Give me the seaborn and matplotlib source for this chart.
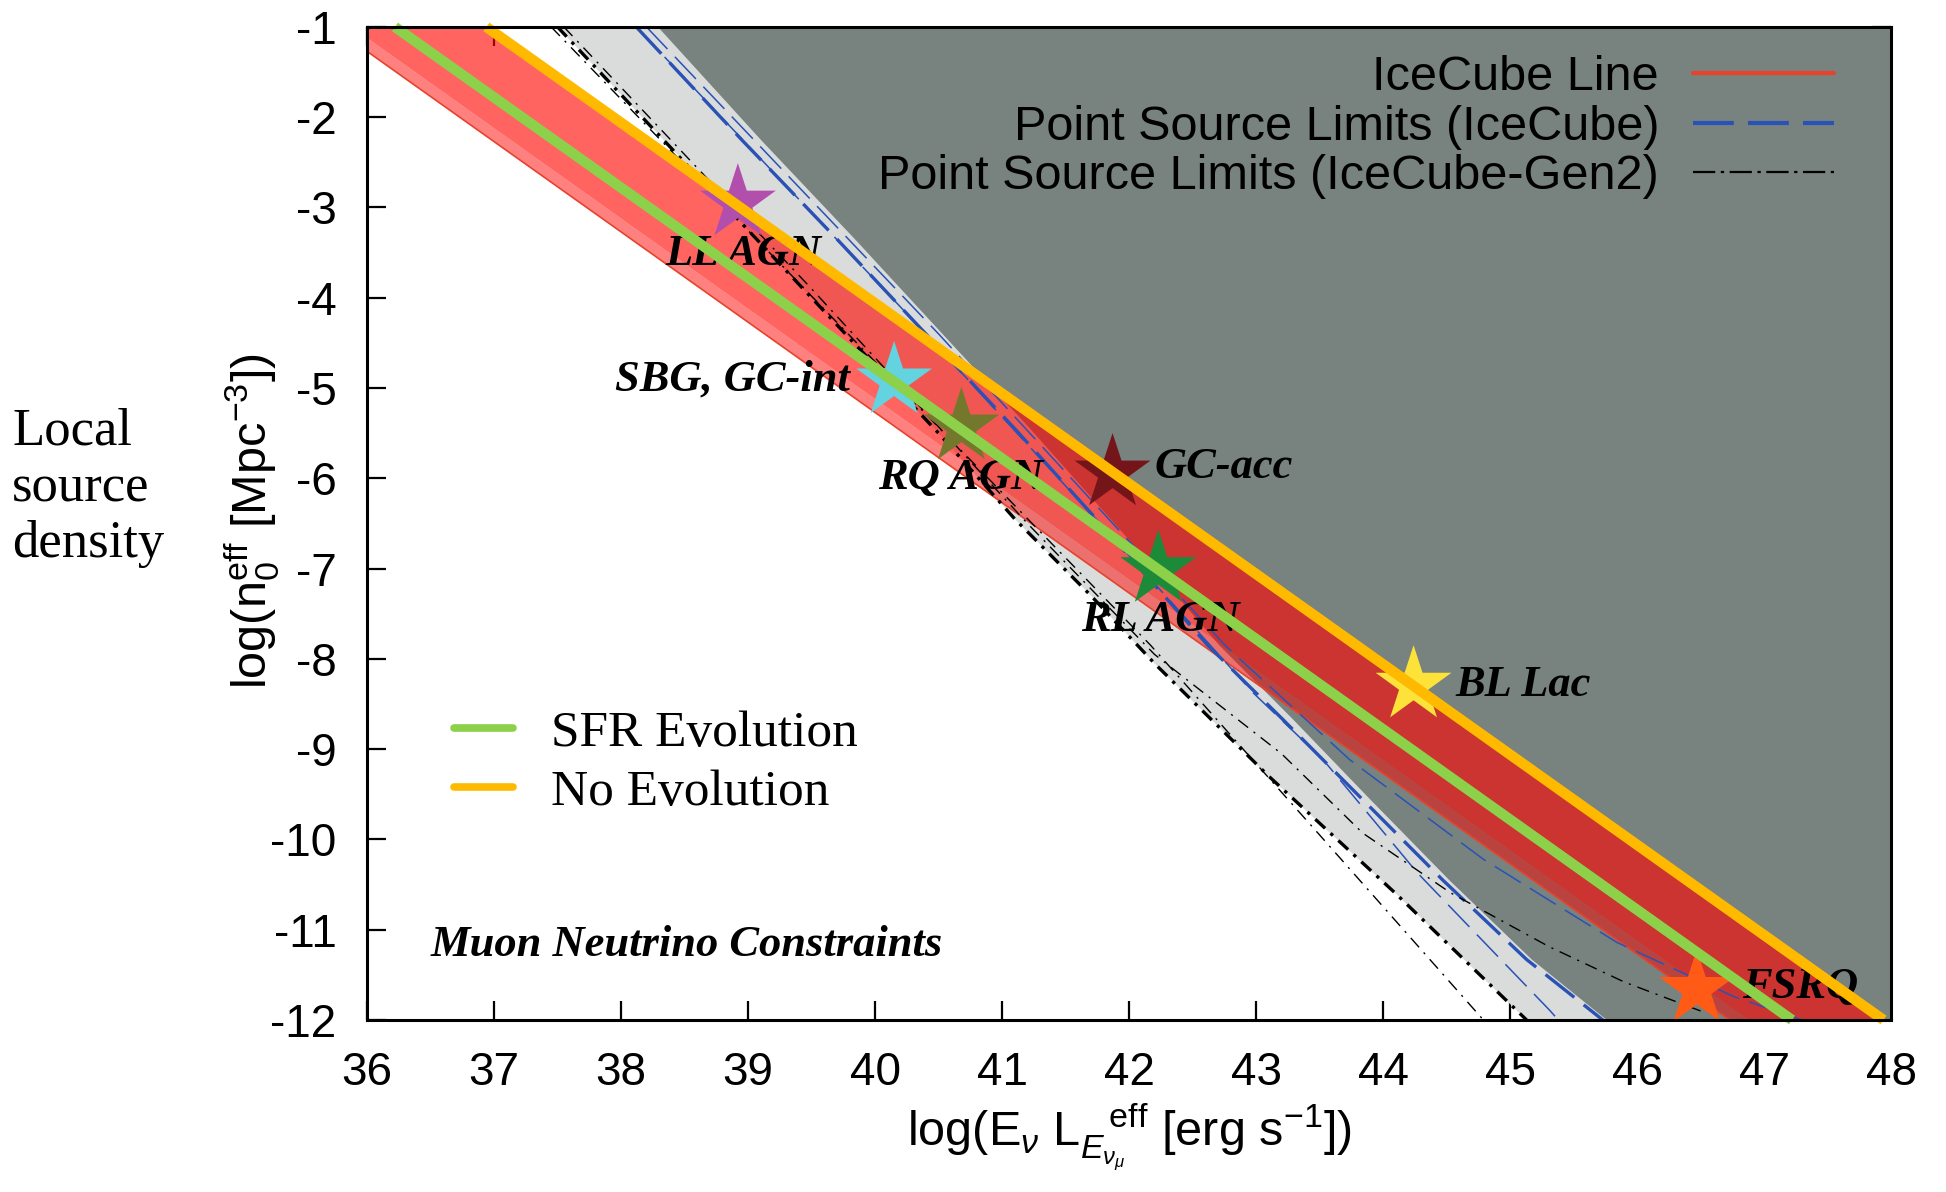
import matplotlib
matplotlib.use('Agg')
import matplotlib.pyplot as plt
from matplotlib.lines import Line2D
import numpy as np
import seaborn as sns

sns.set_style('ticks')
plt.rcParams['font.family'] = ['Liberation Sans', 'DejaVu Sans']
plt.rcParams['mathtext.fontset'] = 'custom'
plt.rcParams['mathtext.rm'] = 'Liberation Sans'
plt.rcParams['mathtext.it'] = 'Liberation Sans:italic'
plt.rcParams['mathtext.bf'] = 'Liberation Sans:bold'
plt.rcParams['axes.unicode_minus'] = False
plt.rcParams['text.color'] = 'black'
plt.rcParams['axes.labelcolor'] = 'black'

# axis ticks
x_ticks = list(range(36, 49))
y_ticks = list(range(-1, -13, -1))
x_tick_labels = [str(v) for v in x_ticks]
y_tick_labels = [str(v) for v in y_ticks]

# IceCube band (lower / inner / upper edge at x = 36 and 48)
band_x = [36.0, 48.0]
band_lo = [-1.27, -13.27]
band_mid = [-1.12, -13.12]
band_hi = [-0.06, -12.06]

# evolution lines
sfr_x = [36.22, 47.22]
sfr_y = [-1.0, -12.0]
noev_x = [36.94, 47.94]
noev_y = [-1.0, -12.0]

# excluded region (dark gray) boundary
dark_x = [38.29, 39.10, 39.84, 40.53, 41.22, 41.96, 42.71, 43.29, 43.90, 44.52, 45.17, 45.76]
dark_y = [-1.0, -2.25, -3.35, -4.40, -5.45, -6.62, -7.85, -8.67, -9.56, -10.45, -11.33, -12.0]

# point source limits, IceCube (blue dashed)
ic_thick_x = [38.12, 38.95, 39.70, 40.40, 41.10, 41.85, 42.62, 43.21, 43.84, 44.47, 45.13, 45.73]
ic_thick_y = [-1.0, -2.25, -3.35, -4.40, -5.45, -6.62, -7.85, -8.67, -9.56, -10.45, -11.33, -12.0]
ic_thin_a_x = [38.12, 40.40, 41.85, 42.98, 43.53, 44.27, 45.31, 45.38]
ic_thin_a_y = [-1.0, -4.40, -6.62, -8.38, -9.12, -10.37, -11.89, -12.0]
ic_thin_b_x = [38.20, 40.50, 41.95, 42.77, 43.74, 44.79, 45.84, 46.76, 47.30]
ic_thin_b_y = [-1.0, -4.40, -6.62, -7.87, -9.12, -10.22, -11.14, -11.74, -12.0]

# point source limits, IceCube-Gen2 (black dash-dot)
g2_thick_x = [37.50, 38.50, 39.50, 40.50, 41.10, 41.70, 42.20, 43.10, 44.10, 45.13]
g2_thick_y = [-1.0, -2.50, -4.00, -5.50, -6.45, -7.30, -8.05, -9.30, -10.60, -12.0]
g2_thin_a_x = [37.45, 40.20, 42.17, 43.50, 44.79]
g2_thin_a_y = [-1.0, -5.00, -7.85, -9.95, -12.0]
g2_thin_b_x = [37.55, 39.50, 41.20, 42.20, 43.20, 43.84, 44.53, 45.31, 45.90, 46.50]
g2_thin_b_y = [-1.0, -3.90, -6.50, -7.95, -9.05, -9.93, -10.59, -11.19, -11.58, -11.90]

# source classes
star_names = ['LL AGN', 'SBG, GC-int', 'RQ AGN', 'GC-acc', 'RL AGN', 'BL Lac', 'FSRQ']
star_x = [38.92, 40.15, 40.68, 41.87, 42.23, 44.24, 46.47]
star_y = [-2.95, -4.92, -5.43, -5.94, -7.01, -8.29, -11.66]
star_colors = ['#b24fad', '#62d3df', '#74782c', '#74151a', '#1d8a3a', '#fde23a', '#ff5a16']
label_x = [38.35, 39.80, 40.02, 42.20, 41.62, 44.57, 46.83]
label_y = [-3.52, -4.91, -6.00, -5.88, -7.57, -8.29, -11.63]
label_ha = ['left', 'right', 'left', 'left', 'left', 'left', 'left']

fig = plt.figure(figsize=(19.46, 11.92), dpi=100)
ax = fig.add_axes([0.1886, 0.1443, 0.7832, 0.8331])

# shaded regions
ax.fill(g2_thick_x + dark_x[::-1], g2_thick_y + dark_y[::-1], color='#d9dcdb', lw=0, zorder=1)
ax.fill(dark_x + [48.0, 48.0], dark_y + [-12.0, -1.0], color='#78827f', lw=0, zorder=1)

# IceCube band
ax.fill_between(band_x, band_lo, band_mid, color=(1.0, 0.02, 0.0), alpha=0.50, lw=0, zorder=2)
ax.fill_between(band_x, band_mid, band_hi, color=(1.0, 0.02, 0.0), alpha=0.62, lw=0, zorder=2)
sns.lineplot(x=band_x, y=band_lo, color='#e8412c', lw=1.2, estimator=None, ax=ax, zorder=2.5)

blue = '#2a52b5'
dashdot = (0, (4, 2.2, 1, 2.2))
sns.lineplot(x=ic_thick_x, y=ic_thick_y, color=blue, lw=2.4, linestyle=(0, (11, 3.6)),
             estimator=None, ax=ax, zorder=3)
sns.lineplot(x=ic_thin_a_x, y=ic_thin_a_y, color=blue, lw=1.1, linestyle=(0, (20, 7)),
             estimator=None, ax=ax, zorder=3)
sns.lineplot(x=ic_thin_b_x, y=ic_thin_b_y, color=blue, lw=1.1, linestyle=(0, (20, 7)),
             estimator=None, ax=ax, zorder=3)
sns.lineplot(x=g2_thick_x, y=g2_thick_y, color='black', lw=2.4, linestyle=dashdot,
             estimator=None, ax=ax, zorder=3)
sns.lineplot(x=g2_thin_a_x, y=g2_thin_a_y, color='black', lw=1.0, linestyle=(0, (9, 5, 1.5, 5)),
             estimator=None, ax=ax, zorder=3)
sns.lineplot(x=g2_thin_b_x, y=g2_thin_b_y, color='black', lw=1.0, linestyle=(0, (9, 5, 1.5, 5)),
             estimator=None, ax=ax, zorder=3)

# stars and labels
sns.scatterplot(x=star_x, y=star_y, hue=star_names, palette=star_colors, marker='*',
                s=3300, linewidth=0, legend=False, ax=ax, zorder=4)
for name, lx, ly, ha in zip(star_names, label_x, label_y, label_ha):
    ax.text(lx, ly, name, ha=ha, va='center', family='Liberation Serif', style='italic',
            weight='bold', fontsize=32, color='black', zorder=5)
ax.text(36.5, -11.17, 'Muon Neutrino Constraints', ha='left', va='center',
        family='Liberation Serif', style='italic', weight='bold', fontsize=32,
        color='black', zorder=5)

# evolution lines on top
sns.lineplot(x=sfr_x, y=sfr_y, color='#8dd04a', lw=7.5, solid_capstyle='butt',
             clip_on=False, estimator=None, ax=ax, zorder=6)
sns.lineplot(x=noev_x, y=noev_y, color='#ffba00', lw=7.5, solid_capstyle='butt',
             clip_on=False, estimator=None, ax=ax, zorder=6)

ax.set_xlim(36, 48)
ax.set_ylim(-12, -1)
ax.set_xticks(x_ticks)
ax.set_xticklabels(x_tick_labels)
ax.set_yticks(y_ticks)
ax.set_yticklabels(y_tick_labels)
ax.tick_params(direction='in', length=14, width=1.6, top=True, right=True,
               labelsize=33, pad=22, colors='black')
for sp in ax.spines.values():
    sp.set_linewidth(2.2)
    sp.set_color('black')
    sp.set_zorder(7)

ax.set_xlabel(r'log(E$_\nu$ L$_{E_{\nu_\mu}}^{\ \ \ \mathrm{eff}}$ [erg s$^{-1}$])', fontsize=35)
ax.xaxis.set_label_coords(0.5, -0.082)
ax.set_ylabel(r'log(n$_0^{\mathrm{eff}}$ [Mpc$^{-3}$])', fontsize=35)
ax.yaxis.set_label_coords(-0.056, 0.5025)

# legends
h1 = [Line2D([], [], color='#e8412c', lw=3.0),
      Line2D([], [], color=blue, lw=3.0, linestyle=(0, (9.8, 3.4))),
      Line2D([], [], color='black', lw=1.6, linestyle=(0, (10, 2.5, 1.5, 2.5)))]
leg1 = ax.legend(h1, ['IceCube Line', 'Point Source Limits (IceCube)',
                      'Point Source Limits (IceCube-Gen2)'],
                 loc='upper right', bbox_to_anchor=(0.9626, 0.972), frameon=False,
                 markerfirst=False, fontsize=35, handlelength=2.9, handletextpad=0.7,
                 labelspacing=0.1, borderpad=0, borderaxespad=0)
leg1.set_zorder(8)
ax.add_artist(leg1)

h2 = [Line2D([], [], color='#8dd04a', lw=5.5), Line2D([], [], color='#ffba00', lw=5.5)]
leg2 = ax.legend(h2, ['SFR Evolution', 'No Evolution'], loc='upper left',
                 bbox_to_anchor=(0.057, 0.312), frameon=False,
                 prop={'family': 'Liberation Serif', 'size': 37},
                 handlelength=1.15, handletextpad=0.74, labelspacing=0.24,
                 borderpad=0, borderaxespad=0)
leg2.set_zorder(8)

fig.text(0.0062, 0.5906, 'Local\nsource\ndensity', ha='left', va='center',
         family='Liberation Serif', fontsize=38, linespacing=1.22)

fig.savefig('out.png', dpi=100)
